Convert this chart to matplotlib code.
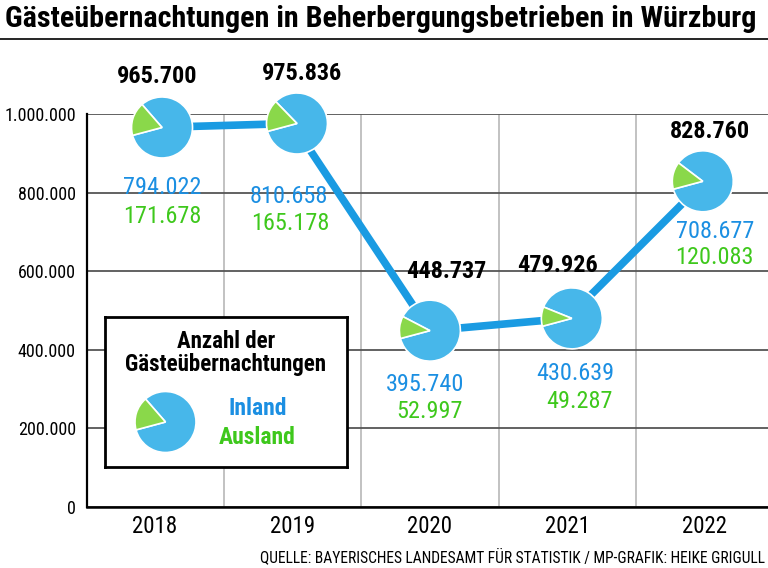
import matplotlib
matplotlib.use("Agg")
import matplotlib.pyplot as plt
import matplotlib.transforms as mtransforms
from matplotlib import font_manager
from matplotlib.patches import Wedge
from matplotlib.lines import Line2D


years = ["2018", "2019", "2020", "2021", "2022"]
gesamt = [965700, 975836, 448737, 479926, 828760]
inland = [794022, 810658, 395740, 430639, 708677]
ausland = [171678, 165178, 52997, 49287, 120083]
y_ticks = [0, 200000, 400000, 600000, 800000, 1000000]

TITLE = "Gästeübernachtungen in Beherbergungsbetrieben in Würzburg"
SOURCE = "QUELLE: BAYERISCHES LANDESAMT FÜR STATISTIK / MP-GRAFIK: HEIKE GRIGULL"

# label offsets in pixels relative to each pie (dx, dy up)
total_off = [(2, 51), (9.5, 49.5), (16, 59), (-9.5, 53), (5, 50)]
inland_off = [(7, -60), (-3.5, -73.5), (-5, -54), (7.5, -55), (10, -50)]
ausland_off = [(7, -89), (-2.5, -100.5), (0, -81), (12.5, -83), (10, -76)]

PIE_BLUE = "#47b7ea"
PIE_GREEN = "#8ad84a"
LINE_BLUE = "#1a9be2"
TEXT_BLUE = "#1b8fe2"
TEXT_GREEN = "#3ec81c"


def pick_font():
    candidates = ["Liberation Sans Narrow", "DejaVu Sans Condensed", "Roboto Condensed", "Open Sans"]
    available = {f.name for f in font_manager.fontManager.ttflist}
    for name in candidates:
        if name in available:
            return name
    return "DejaVu Sans"


def de(v):
    return f"{v:,}".replace(",", ".")


def draw_pie(ax, fig, x, y, share, r=0.305, dx_px=0):
    # pie drawn in inches around a data point, so it stays round
    trans = fig.dpi_scale_trans + mtransforms.ScaledTranslation(x, y, ax.transData)
    end = 195
    start = end - share * 360
    cx = dx_px / fig.dpi
    blue = Wedge((cx, 0), r, end, start + 360, facecolor=PIE_BLUE,
                 edgecolor="white", linewidth=1.2, transform=trans, clip_on=False, zorder=5)
    green = Wedge((cx, 0), r, start, end, facecolor=PIE_GREEN,
                  edgecolor="white", linewidth=1.2, transform=trans, clip_on=False, zorder=5)
    ax.add_artist(blue)
    ax.add_artist(green)


font = pick_font()
plt.rcParams["font.family"] = [font, "DejaVu Sans"]

fig = plt.figure(figsize=(7.68, 5.68), dpi=100)
ax = fig.add_axes([87 / 768, 1 - 507 / 568, 1 - 87 / 768, (507 - 114) / 568])

xs = list(range(len(years)))
ax.set_xlim(-0.495, 4.46)
ax.set_ylim(0, 1000000)

ax.plot(xs, gesamt, color=LINE_BLUE, linewidth=5.5, solid_capstyle="butt",
        zorder=3, clip_on=False)

pie_dx = [7, 4.5, 0, 4.5, -2]
for i in xs:
    draw_pie(ax, fig, i, gesamt[i], ausland[i] / gesamt[i], dx_px=pie_dx[i])
    ax.annotate(de(gesamt[i]), (i, gesamt[i]), xytext=total_off[i], textcoords="offset pixels",
                ha="center", va="center", fontsize=17.5, fontweight="bold",
                color="black", annotation_clip=False, zorder=6)
    ax.annotate(de(inland[i]), (i, gesamt[i]), xytext=inland_off[i], textcoords="offset pixels",
                ha="center", va="center", fontsize=17.5, color=TEXT_BLUE,
                annotation_clip=False, zorder=6)
    ax.annotate(de(ausland[i]), (i, gesamt[i]), xytext=ausland_off[i], textcoords="offset pixels",
                ha="center", va="center", fontsize=17.5, color=TEXT_GREEN,
                annotation_clip=False, zorder=6)

# grid
ax.set_yticks(y_ticks)
ax.set_yticklabels([de(v) for v in y_ticks], fontsize=13)
ax.grid(axis="y", color="#555555", linewidth=1.3, zorder=0)
for b in [0.5, 1.5, 2.5, 3.5]:
    ax.axvline(b, color="#b8b8b8", linewidth=1.2, zorder=0)
ax.set_xticks(xs)
ax.set_xticklabels(years, fontsize=16.5)
ax.tick_params(axis="both", length=0)
ax.tick_params(axis="y", pad=8)
ax.tick_params(axis="x", pad=6)
ax.set_axisbelow(True)
for side in ["top", "right"]:
    ax.spines[side].set_visible(False)
ax.spines["left"].set_linewidth(1.6)
ax.spines["bottom"].set_linewidth(1.8)

# legend box
lax = fig.add_axes([105 / 768, 1 - 467 / 568, 242 / 768, 150 / 568])
lax.set_xlim(0, 1)
lax.set_ylim(0, 1)
lax.set_xticks([])
lax.set_yticks([])
for s in lax.spines.values():
    s.set_linewidth(2)
lax.set_zorder(10)
lax.text(0.5, 0.84, "Anzahl der", ha="center", va="center", fontsize=16.5, fontweight="bold")
lax.text(0.5, 0.68, "Gästeübernachtungen", ha="center", va="center", fontsize=16.5, fontweight="bold")
lax.text(0.63, 0.39, "Inland", ha="center", va="center", fontsize=17,
         fontweight="bold", color=TEXT_BLUE)
lax.text(0.63, 0.2, "Ausland", ha="center", va="center", fontsize=17,
         fontweight="bold", color=TEXT_GREEN)
draw_pie(lax, fig, 0.25, 0.30, ausland[0] / gesamt[0])

# title, rule and source
fig.text(5 / 768, 1 - 27 / 568, TITLE, ha="left", va="baseline", fontsize=21.7, fontweight="bold")
fig.add_artist(Line2D([0, 1], [1 - 38.5 / 568, 1 - 38.5 / 568], color="black", linewidth=1.2,
                      transform=fig.transFigure))
fig.text(765 / 768, 1 - 557 / 568, SOURCE, ha="right", va="center", fontsize=11.2)

fig.savefig("out.png", dpi=100)
